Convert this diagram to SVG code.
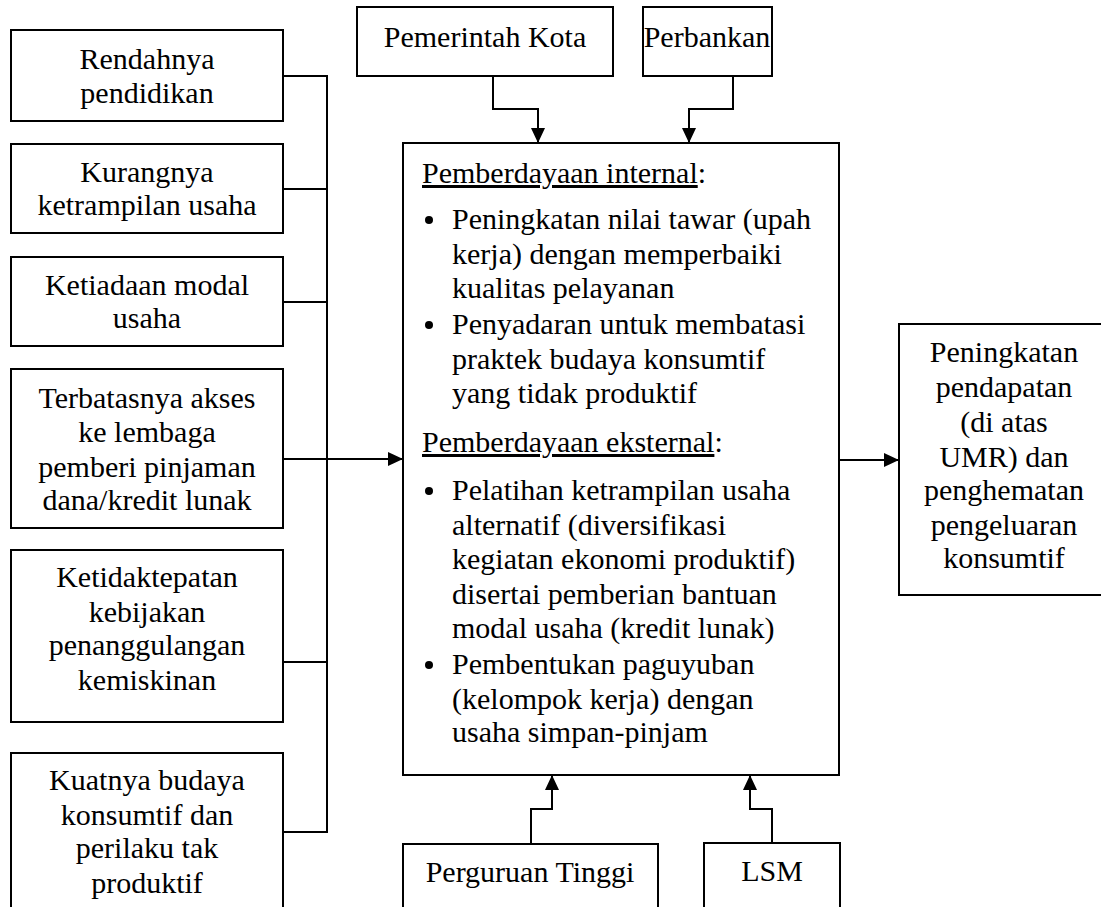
<svg xmlns="http://www.w3.org/2000/svg" width="1101" height="907" viewBox="0 0 1101 907" font-family="Liberation Serif, Times New Roman, serif">
<style>
.box{fill:#fff;stroke:#000;stroke-width:2}
text{font-size:30px;fill:#000}
.c{text-anchor:middle}
.ln{fill:none;stroke:#000;stroke-width:2}
.u{text-decoration:underline}
</style>
<defs>
<marker id="ah" markerUnits="userSpaceOnUse" markerWidth="16" markerHeight="14" refX="15" refY="7" orient="auto">
<path d="M0,0 L15,7 L0,14 Z" fill="#000"/>
</marker>
</defs>
<rect width="1101" height="907" fill="#fff"/>

<g id="n-rendahnya">
<rect class="box" x="11" y="30" width="272" height="91"/>
<text class="c" x="147" y="69">Rendahnya</text>
<text class="c" x="147" y="103">pendidikan</text>
</g>
<g id="n-kurangnya">
<rect class="box" x="11" y="144" width="272" height="89"/>
<text class="c" x="147" y="182">Kurangnya</text>
<text class="c" x="147" y="215">ketrampilan usaha</text>
</g>
<g id="n-ketiadaan">
<rect class="box" x="11" y="257" width="272" height="89"/>
<text class="c" x="147" y="295">Ketiadaan modal</text>
<text class="c" x="147" y="328">usaha</text>
</g>
<g id="n-terbatasnya">
<rect class="box" x="11" y="369" width="272" height="159"/>
<text class="c" x="147" y="408">Terbatasnya akses</text>
<text class="c" x="147" y="442">ke lembaga</text>
<text class="c" x="147" y="477">pemberi pinjaman</text>
<text class="c" x="147" y="510">dana/kredit lunak</text>
</g>
<g id="n-ketidaktepatan">
<rect class="box" x="11" y="550" width="272" height="172"/>
<text class="c" x="147" y="587">Ketidaktepatan</text>
<text class="c" x="147" y="622">kebijakan</text>
<text class="c" x="147" y="655">penanggulangan</text>
<text class="c" x="147" y="690">kemiskinan</text>
</g>
<g id="n-kuatnya">
<rect class="box" x="11" y="753" width="272" height="170"/>
<text class="c" x="147" y="790">Kuatnya budaya</text>
<text class="c" x="147" y="825">konsumtif dan</text>
<text class="c" x="147" y="858">perilaku tak</text>
<text class="c" x="147" y="893">produktif</text>
</g>

<g id="n-pemkot">
<rect class="box" x="357" y="7" width="256" height="69"/>
<text class="c" x="485" y="47">Pemerintah Kota</text>
</g>
<g id="n-perbankan">
<rect class="box" x="643" y="7" width="129" height="69"/>
<text class="c" x="707" y="47">Perbankan</text>
</g>

<g id="n-pemberdayaan">
<rect class="box" x="403" y="143" width="436" height="632"/>
<text x="422" y="183"><tspan class="u">Pemberdayaan internal</tspan>:</text>
<circle cx="429" cy="220" r="4"/>
<text x="452" y="229">Peningkatan nilai tawar (upah</text>
<text x="452" y="263.5">kerja) dengan memperbaiki</text>
<text x="452" y="298">kualitas pelayanan</text>
<circle cx="429" cy="325" r="4"/>
<text x="452" y="334">Penyadaran untuk membatasi</text>
<text x="452" y="368.5">praktek budaya konsumtif</text>
<text x="452" y="403">yang tidak produktif</text>
<text x="422" y="452"><tspan class="u">Pemberdayaan eksternal</tspan>:</text>
<circle cx="429" cy="491" r="4"/>
<text x="452" y="500">Pelatihan ketrampilan usaha</text>
<text x="452" y="534.5">alternatif (diversifikasi</text>
<text x="452" y="569">kegiatan ekonomi produktif)</text>
<text x="452" y="603.5">disertai pemberian bantuan</text>
<text x="452" y="638">modal usaha (kredit lunak)</text>
<circle cx="429" cy="665" r="4"/>
<text x="452" y="674">Pembentukan paguyuban</text>
<text x="452" y="708.5">(kelompok kerja) dengan</text>
<text x="452" y="742">usaha simpan-pinjam</text>
</g>

<g id="n-hasil">
<rect class="box" x="899" y="324" width="210" height="271"/>
<text class="c" x="1004" y="362">Peningkatan</text>
<text class="c" x="1004" y="397">pendapatan</text>
<text class="c" x="1004" y="432">(di atas</text>
<text class="c" x="1004" y="467">UMR) dan</text>
<text class="c" x="1004" y="500">penghematan</text>
<text class="c" x="1004" y="535">pengeluaran</text>
<text class="c" x="1004" y="568">konsumtif</text>
</g>

<g id="n-pt">
<rect class="box" x="403" y="844" width="255" height="80"/>
<text class="c" x="530" y="882">Perguruan Tinggi</text>
</g>
<g id="n-lsm">
<rect class="box" x="704" y="843" width="136" height="80"/>
<text class="c" x="772" y="881">LSM</text>
</g>

<g id="connectors">
<path class="ln" d="M283,76 H327 V832 H283"/>
<path class="ln" d="M283,189 H327"/>
<path class="ln" d="M283,302 H327"/>
<path class="ln" d="M283,662 H327"/>
<path class="ln" d="M283,459 H403" marker-end="url(#ah)"/>
<path class="ln" d="M493,76 V109 H538 V143" marker-end="url(#ah)"/>
<path class="ln" d="M733,76 V109 H689 V143" marker-end="url(#ah)"/>
<path class="ln" d="M531,844 V809 H552 V775" marker-end="url(#ah)"/>
<path class="ln" d="M772,843 V809 H750 V775" marker-end="url(#ah)"/>
<path class="ln" d="M839,460 H899" marker-end="url(#ah)"/>
</g>
</svg>
